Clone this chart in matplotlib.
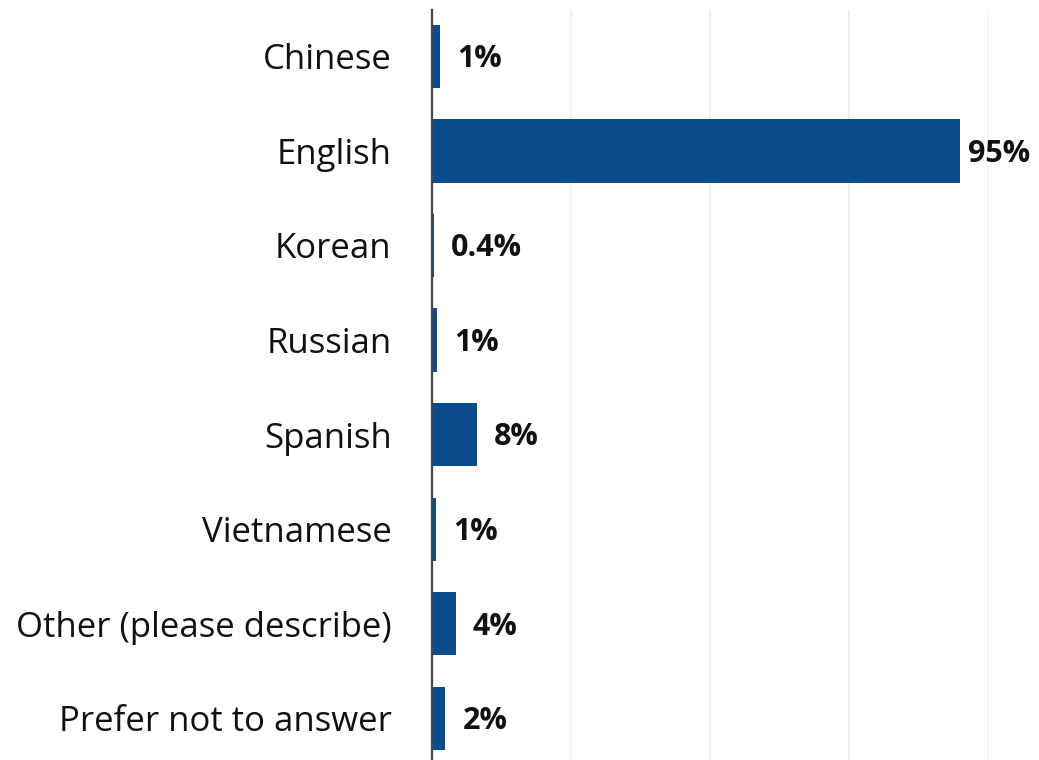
import numpy as np
import matplotlib.pyplot as plt

# Idioma preferido (porcentaje de respuestas)
idiomas = ['Chinese', 'English', 'Korean', 'Russian', 'Spanish',
           'Vietnamese', 'Other (please describe)', 'Prefer not to answer']
porcentajes = [1.4, 95, 0.4, 0.9, 8.1, 0.7, 4.3, 2.4]

color_barra = '#0b4d8c'

def etiqueta(v):
    if round(v) == 0:
        return '{:.1f}%'.format(v)
    return '{:.0f}%'.format(v)

plt.rcParams['font.family'] = ['Open Sans', 'DejaVu Sans']

fig = plt.figure(figsize=(10.39, 7.6), dpi=100)
ax = fig.add_axes([432/1039, 0.0, (988-432)/1039, 1-10/760])

y = np.arange(len(idiomas))
ax.barh(y, porcentajes, height=0.67, color=color_barra, zorder=3)

ax.set_xlim(0, 100)
ax.set_ylim(7.44, -0.49)
ax.set_xticks([25, 50, 75, 100])
ax.xaxis.grid(True, color='#ececec', linewidth=1.2, zorder=0)
ax.tick_params(axis='x', length=0, labelbottom=False)
ax.tick_params(axis='y', length=0, pad=29, labelsize=25)
ax.set_yticks(y)
ax.set_yticklabels(idiomas, color='#111111')

for s in ['top', 'right', 'bottom']:
    ax.spines[s].set_visible(False)
ax.spines['left'].set_color('#444444')
ax.spines['left'].set_linewidth(1.6)
ax.spines['left'].set_zorder(4)

# etiquetas de valor a la derecha de cada barra
for i, v in enumerate(porcentajes):
    dx = 8 if v > 90 else 17
    ax.annotate(etiqueta(v), xy=(v, i), xytext=(dx * 0.72, -2),
                textcoords='offset points', va='center', ha='left',
                fontsize=22, fontweight='bold', color='#111111')

plt.savefig('out.png', dpi=100)
